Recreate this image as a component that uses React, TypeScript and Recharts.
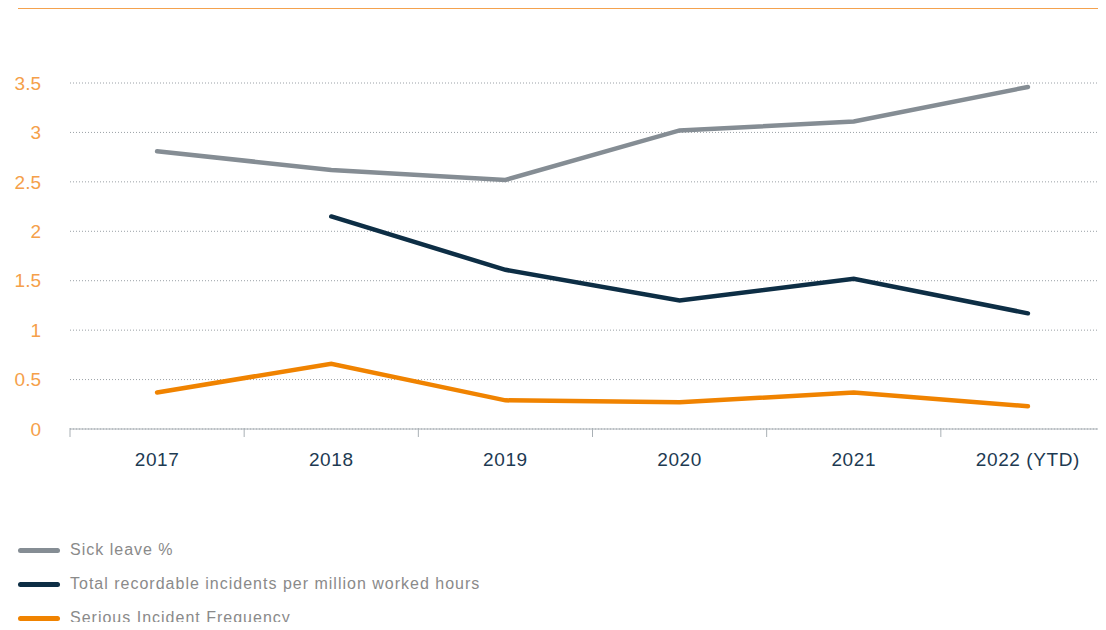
import React from 'react';
import { LineChart, Line, XAxis, YAxis, CartesianGrid } from 'recharts';

const years = ['2017', '2018', '2019', '2020', '2021', '2022 (YTD)'];
const sickLeave = [2.81, 2.62, 2.52, 3.02, 3.11, 3.46];
const totalRecordable = [null, 2.15, 1.61, 1.3, 1.52, 1.17];
const seriousFrequency = [0.37, 0.66, 0.29, 0.27, 0.37, 0.23];
const yTicks = [0, 0.5, 1, 1.5, 2, 2.5, 3, 3.5];

const series = [
  { key: 'sick', name: 'Sick leave %', color: '#858d94' },
  { key: 'trif', name: 'Total recordable incidents per million worked hours', color: '#0d2e45' },
  { key: 'sif', name: 'Serious Incident Frequency', color: '#f08300' },
];

const data = years.map((year, i) => ({
  year,
  sick: sickLeave[i],
  trif: totalRecordable[i],
  sif: seriousFrequency[i],
}));

const CHART_W = 1115;
const CHART_H = 480;
const Y_AXIS_W = 70;
const BAND = (CHART_W - Y_AXIS_W) / years.length;

const font = '"Liberation Sans", Arial, sans-serif';

// category label in the middle, short tick mark on the left edge of each band
const YearTick = (props: any) => {
  const { x, y, payload } = props;
  const edge = x - BAND / 2;
  return (
    <g>
      <line x1={edge} x2={edge} y1={y - 9} y2={y} stroke="#a9b0b5" strokeWidth={1} />
      <text x={x} y={y + 29} textAnchor="middle" fill="#1d3a52" fontSize={19} letterSpacing={0.6} fontFamily={font}>
        {payload.value}
      </text>
    </g>
  );
};

export default function App() {
  return (
    <div style={{ margin: -8, width: 1106, height: 630, overflow: 'hidden', position: 'relative', background: '#fff' }}>
      <div style={{ position: 'absolute', left: 18, right: 0, top: 7, height: 2, background: '#f4a24e' }} />
      <LineChart width={CHART_W} height={CHART_H} data={data} margin={{ top: 83, right: 0, bottom: 0, left: 0 }}>
        <CartesianGrid vertical={false} stroke="#9aa0a6" strokeDasharray="1 2" />
        <XAxis
          dataKey="year"
          height={51}
          axisLine={{ stroke: '#a9b0b5' }}
          tickLine={false}
          tick={<YearTick />}
          interval={0}
          padding={{ left: BAND / 2, right: BAND / 2 }}
        />
        <YAxis
          width={Y_AXIS_W}
          domain={[0, 3.5]}
          ticks={yTicks}
          axisLine={false}
          tickLine={false}
          tickSize={0}
          tickMargin={29}
          tick={{ fill: '#f5a04a', fontSize: 19, fontFamily: font }}
        />
        {series.map((s) => (
          <Line
            key={s.key}
            dataKey={s.key}
            name={s.name}
            stroke={s.color}
            strokeWidth={4.5}
            strokeLinecap="round"
            dot={false}
            activeDot={false}
            isAnimationActive={false}
          />
        ))}
      </LineChart>
      <div style={{ position: 'absolute', left: 18, top: 533 }}>
        {series.map((s) => (
          <div key={s.key} style={{ display: 'flex', alignItems: 'center', height: 34 }}>
            <span style={{ width: 42, height: 5, borderRadius: 3, background: s.color, marginRight: 10 }} />
            <span style={{ color: '#8a8a8a', fontSize: 16, fontFamily: font, letterSpacing: 1 }}>{s.name}</span>
          </div>
        ))}
      </div>
    </div>
  );
}
